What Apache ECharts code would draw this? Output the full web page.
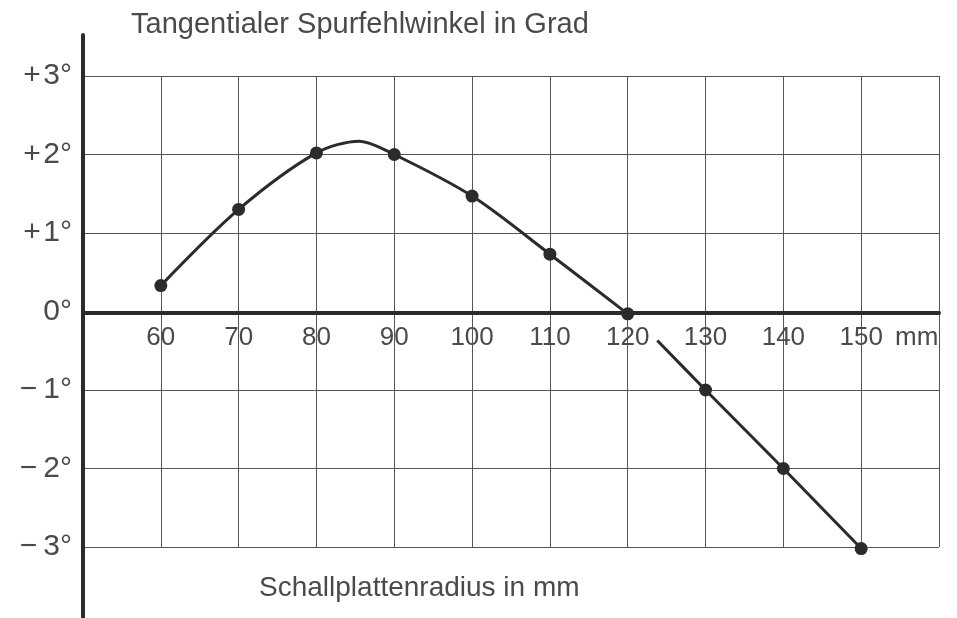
<!DOCTYPE html>
<html><head><meta charset="utf-8">
<script src="https://cdn.jsdelivr.net/npm/echarts@6/dist/echarts.min.js"></script>
<style>html,body{margin:0;padding:0;background:#fff}#c{width:957px;height:618px}</style>
</head><body><div id="c"></div>
<script>
const titleText = 'Tangentialer Spurfehlwinkel in Grad';
const xAxisTitle = 'Schallplattenradius in mm';
const xUnit = 'mm';
const radiusA = [60, 70, 80, 85.5, 90, 100, 110, 120];
const angleA  = [0.33, 1.3, 2.02, 2.17, 2.0, 1.47, 0.73, -0.03];
const markedA = [true, true, true, false, true, true, true, true];
const radiusB = [123.8, 130, 140, 150];
const angleB  = [-0.37, -1.0, -2.0, -3.02];
const markedB = [false, true, true, true];
const xTicks = [60, 70, 80, 90, 100, 110, 120, 130, 140, 150];
const yTicks = [-3, -2, -1, 0, 1, 2, 3];

const FONT = 'Liberation Sans';
const INK = '#2b2b2b';
const TXT = '#4a4a4a';
const chart = echarts.init(document.getElementById('c'), null, {renderer: 'canvas'});

function yLabel(v) {
  if (yTicks.indexOf(v) < 0) return '';
  if (v > 0) return '+\u200a' + v + '°';
  if (v < 0) return '\u2212\u2009' + (-v) + '°';
  return '0°';
}
function pts(xs, ys, marked) {
  return xs.map((x, i) => ({value: [x, ys[i]], symbol: marked[i] ? 'circle' : 'none'}));
}

chart.setOption({
  backgroundColor: '#fff',
  animation: false,
  title: {
    text: titleText, left: 126, top: 5,
    textStyle: {fontFamily: FONT, fontSize: 29, fontWeight: 'normal', color: TXT}
  },
  grid: [
    {left: 83, right: 18, top: 76, bottom: 71},
    {left: 83, right: 18, top: 35, bottom: 0},
    {left: 83, right: 18, top: 76, bottom: 305}
  ],
  xAxis: [
    {
      type: 'value', gridIndex: 0, min: 50, max: 160, interval: 10,
      axisLine: {show: false}, axisTick: {show: false}, axisLabel: {show: false},
      splitLine: {show: true, lineStyle: {color: '#555', width: 1}}
    },
    {type: 'value', gridIndex: 1, min: 0, max: 1, show: false},
    {
      type: 'value', gridIndex: 2, min: 50, max: 160, interval: 10, position: 'bottom',
      name: xUnit, nameLocation: 'end', nameGap: -44,
      nameTextStyle: {fontFamily: FONT, fontSize: 26, color: TXT, verticalAlign: 'top', padding: [12, 0, 0, 0]},
      axisLine: {show: true, onZero: false, lineStyle: {color: INK, width: 4}},
      axisTick: {show: false},
      axisLabel: {
        margin: 12, fontFamily: FONT, fontSize: 26, color: TXT,
        formatter: v => xTicks.indexOf(v) >= 0 ? String(v) : ''
      },
      splitLine: {show: false}
    }
  ],
  yAxis: [
    {
      type: 'value', gridIndex: 0, min: -3, max: 3, interval: 1,
      axisLine: {show: false}, axisTick: {show: false},
      axisLabel: {margin: 11, fontFamily: FONT, fontSize: 30, color: TXT, formatter: yLabel},
      splitLine: {show: true, lineStyle: {color: '#555', width: 1}}
    },
    {
      type: 'value', gridIndex: 1, min: 0, max: 1,
      axisLine: {show: true, lineStyle: {color: INK, width: 4}},
      axisTick: {show: false}, axisLabel: {show: false}, splitLine: {show: false}
    },
    {type: 'value', gridIndex: 2, min: 0, max: 1, show: false}
  ],
  series: [
    {
      type: 'line', xAxisIndex: 0, yAxisIndex: 0, smooth: 0.3, clip: false,
      data: pts(radiusA, angleA, markedA),
      symbol: 'circle', symbolSize: 13,
      lineStyle: {color: INK, width: 3}, itemStyle: {color: INK}
    },
    {
      type: 'line', xAxisIndex: 0, yAxisIndex: 0, smooth: 0.2, clip: false,
      data: pts(radiusB, angleB, markedB),
      symbol: 'circle', symbolSize: 13,
      lineStyle: {color: INK, width: 3}, itemStyle: {color: INK}
    }
  ],
  graphic: [{
    type: 'text', left: 259, top: 574,
    style: {text: xAxisTitle, fontFamily: FONT, fontSize: 28, fill: TXT}
  }]
});
</script></body></html>
